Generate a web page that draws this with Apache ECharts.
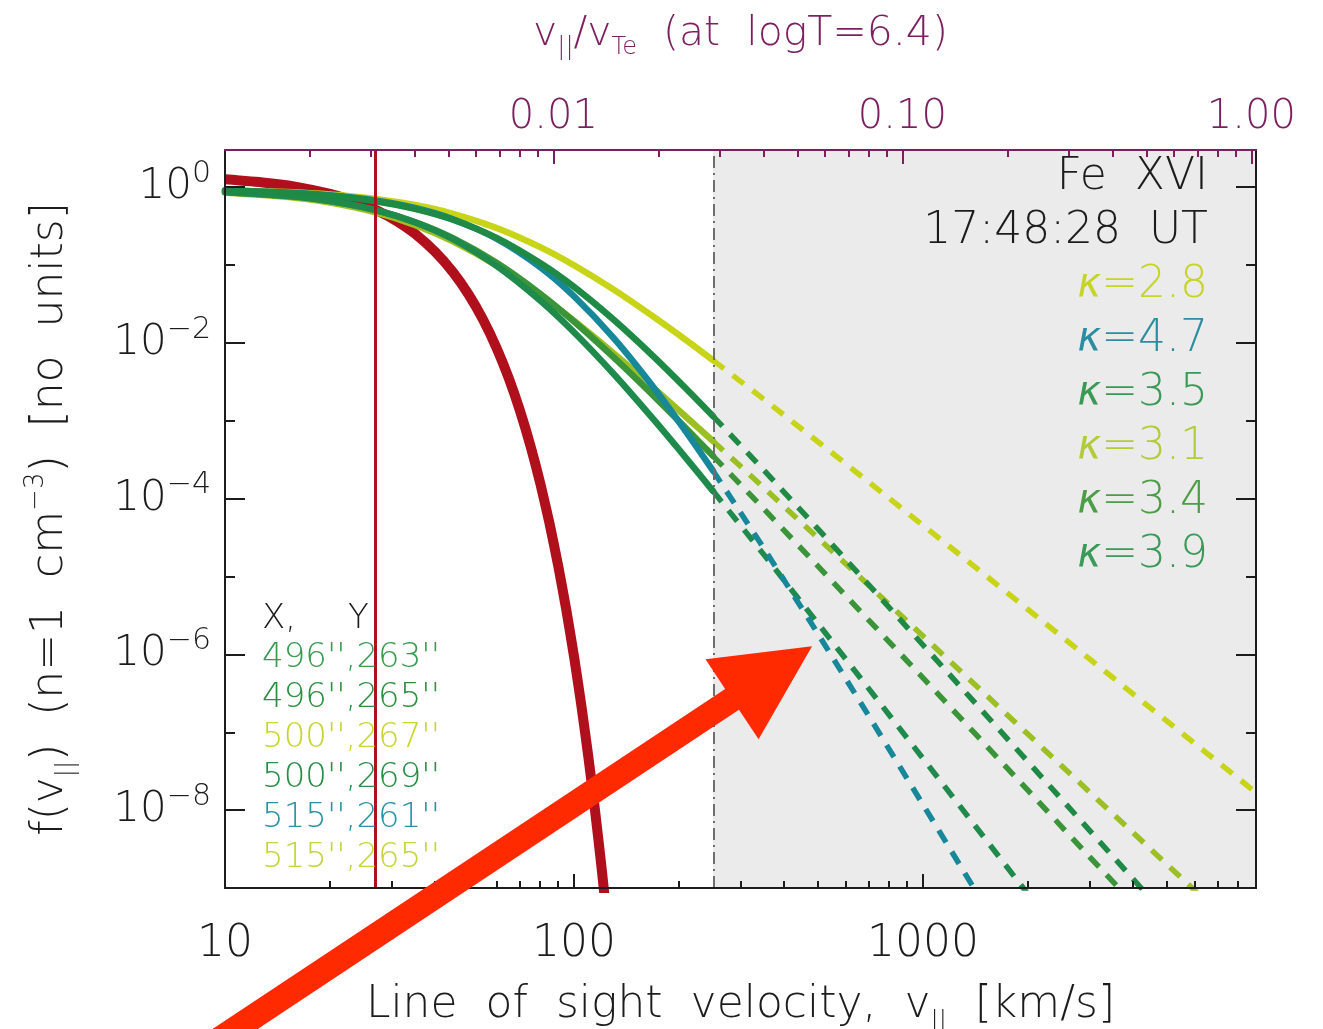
<!DOCTYPE html>
<html>
<head>
<meta charset="utf-8">
<title>Fe XVI line-of-sight velocity distributions</title>
<script src="https://cdn.jsdelivr.net/npm/echarts@6/dist/echarts.min.js"></script>
<style>
  html, body { margin: 0; padding: 0; background: #ffffff; }
  #chart { width: 1323px; height: 1029px; }
</style>
</head>
<body>
<div id="chart"></div>
<script>
// ---- axis ranges and ticks -------------------------------------------------
const velocityRange = [10, 9000];          // km/s
const densityRange = [1e-9, 3];            // f(v), n = 1 cm^-3
const vTe = 8727;                          // electron thermal speed at logT = 6.4, km/s
const velocityMajorTicks = [10, 100, 1000];
const velocityMinorTicks = [20, 30, 40, 50, 60, 70, 80, 90, 200, 300, 400, 500, 600, 700, 800, 900,
                            2000, 3000, 4000, 5000, 6000, 7000, 8000];
const densityMajorTicks = [1e-8, 1e-6, 1e-4, 1e-2, 1];
const densityMinorTicks = [1e-7, 1e-5, 1e-3, 1e-1];
const ratioMajorTicks = [0.01, 0.1, 1];
const ratioMinorTicks = [0.002, 0.003, 0.004, 0.005, 0.006, 0.007, 0.008, 0.009,
                         0.02, 0.03, 0.04, 0.05, 0.06, 0.07, 0.08, 0.09,
                         0.2, 0.3, 0.4, 0.5, 0.6, 0.7, 0.8, 0.9];

// ---- markers -------------------------------------------------------------------
const thermalSpeed = 27.1;                 // Maxwellian width, km/s
const fitLimit = 250;                      // upper end of the fitted velocity range, km/s

// ---- Maxwellian ---------------------------------------------------------------
const maxwellV = [10, 13, 16, 20, 24, 27, 31, 35, 40, 45, 50, 55, 60, 65, 70, 75, 80, 85, 90, 95,
                  100, 105, 110, 115, 120, 125];
const maxwellF = [1.26, 1.14, 1.01, 0.820, 0.638, 0.513, 0.369, 0.253, 0.148, 8.10e-2, 4.12e-2,
                  1.95e-2, 8.59e-3, 3.53e-3, 1.35e-3, 4.80e-4, 1.59e-4, 4.92e-5, 1.41e-5, 3.78e-6,
                  9.44e-7, 2.19e-7, 4.74e-8, 9.54e-9, 1.79e-9, 3.13e-10];

// ---- kappa distributions: fitted core (solid) and extrapolated tail (dashed) ----
const coreV = [10, 15, 20, 27, 35, 45, 60, 80, 100, 130, 170, 210, 250];
const tailV = [250, 350, 500, 700, 1000, 1400, 2000, 3000, 4500, 6500, 9000];

const kappa28Core = [0.914, 0.865, 0.804, 0.706, 0.589, 0.455, 0.299, 0.170, 9.95e-2, 4.83e-2, 2.13e-2, 1.08e-2, 6.01e-3];
const kappa28Tail = [6.01e-3, 1.89e-3, 5.38e-4, 1.63e-4, 4.54e-5, 1.36e-5, 3.77e-6, 8.75e-7, 2.03e-7, 5.41e-8, 1.68e-8];

const kappa47Core = [0.908, 0.855, 0.785, 0.673, 0.540, 0.388, 0.218, 9.40e-2, 3.97e-2, 1.15e-2, 2.60e-3, 7.11e-4, 2.30e-4];
const kappa47Tail = [2.30e-4, 2.31e-5, 1.84e-6, 1.61e-7, 1.18e-8, 9.93e-10, 7.1e-11];

const kappa35Core = [0.904, 0.847, 0.774, 0.659, 0.526, 0.381, 0.223, 0.106, 5.24e-2, 1.98e-2, 6.53e-3, 2.56e-3, 1.15e-3];
const kappa35Tail = [1.15e-3, 2.32e-4, 4.09e-5, 7.78e-6, 1.32e-6, 2.47e-7, 4.17e-8, 5.50e-9, 7.24e-10];

const kappa31Core = [0.855, 0.750, 0.632, 0.474, 0.327, 0.201, 9.84e-2, 4.11e-2, 1.92e-2, 7.33e-3, 2.59e-3, 1.11e-3, 5.50e-4];
const kappa31Tail = [5.50e-4, 1.38e-4, 3.13e-5, 7.67e-6, 1.72e-6, 4.20e-7, 9.40e-8, 1.71e-8, 3.13e-9, 6.67e-10];

const kappa34Core = [0.867, 0.771, 0.662, 0.507, 0.356, 0.221, 0.107, 4.28e-2, 1.88e-2, 6.50e-3, 2.04e-3, 7.89e-4, 3.55e-4];
const kappa34Tail = [3.55e-4, 7.38e-5, 1.36e-5, 2.74e-6, 4.98e-7, 9.93e-8, 1.79e-8, 2.52e-9, 3.66e-10];

const kappa39Core = [0.869, 0.774, 0.665, 0.509, 0.355, 0.215, 9.75e-2, 3.50e-2, 1.37e-2, 3.98e-3, 1.01e-3, 3.27e-4, 1.26e-4];
const kappa39Tail = [1.26e-4, 1.91e-5, 2.50e-6, 3.61e-7, 4.61e-8, 6.58e-9, 8.32e-10];

// ---- legend texts ----------------------------------------------------------------
const ionLabel = 'Fe  XVI';
const timeLabel = '17:48:28  UT';
const kappaLabels = ['2.8', '4.7', '3.5', '3.1', '3.4', '3.9'];
const pixelLabels = ["496'',263''", "496'',265''", "500'',267''", "500'',269''", "515'',261''", "515'',265''"];

// annotation arrow, from off-chart up to the tails (velocity, f)
const arrowTail = [8.6, 8.1e-12];
const arrowTip = [481, 1.27e-6];

// ---- styling -------------------------------------------------------------------------
const FONT = "'DejaVu Sans', 'Liberation Sans', sans-serif";
const FW = 200;
const INK = '#1c1c1c';
const PURPLE = '#7b1f5f';
const RED = '#b0101c';
const curveColors = {
  k28: '#c8d418', k47: '#17879a', k35: '#1f8a45', k31: '#9cbf24', k34: '#3a9438', k39: '#1e8a4c'
};
const kappaTextColors = ['#c6d42a', '#2a8ea0', '#3a9a55', '#b0cc38', '#4a9e45', '#3a9a58'];
const pixelTextColors = ['#3a9a50', '#2e8f40', '#c8d530', '#2a8d48', '#2a92a2', '#c5d43a'];

const L = Math.log10;
const logs = arr => arr.map(L);
const pairs = (v, f) => f.map((y, i) => [L(v[i]), L(y)]);

const X_MIN = L(velocityRange[0]), X_MAX = L(velocityRange[1]);
const Y_MIN = L(densityRange[0]), Y_MAX = L(densityRange[1]);

function axisBase(color) {
  return {
    type: 'value', z: 10,
    axisLine: { show: true, onZero: false, lineStyle: { color: color, width: 2 } },
    splitLine: { show: false },
    axisLabel: { show: false },
    axisPointer: { show: false }
  };
}
function tickStyle(values, len, color) {
  return { show: true, inside: true, length: len, customValues: values,
           lineStyle: { color: color, width: 2 } };
}

const chart = echarts.init(document.getElementById('chart'), null, { renderer: 'canvas' });

const xAxes = [
  Object.assign(axisBase(INK), {
    position: 'bottom', min: X_MIN, max: X_MAX,
    axisTick: tickStyle(logs(velocityMajorTicks), 14, INK),
    axisLabel: {
      show: true, customValues: logs(velocityMajorTicks), margin: 35,
      formatter: v => String(Math.round(Math.pow(10, v))),
      color: INK, fontFamily: FONT, fontWeight: FW, fontSize: 44
    },
    name: '{t|Line  of  sight  velocity,  v}{s|||}{t|  [km/s]}',
    nameLocation: 'middle', nameGap: 90,
    nameTextStyle: {
      rich: {
        t: { fontFamily: FONT, fontWeight: FW, fontSize: 44, color: INK, lineHeight: 56 },
        s: { fontFamily: FONT, fontWeight: FW, fontSize: 24, color: INK, lineHeight: 36, verticalAlign: 'bottom' }
      }
    }
  }),
  Object.assign(axisBase(INK), {
    position: 'bottom', min: X_MIN, max: X_MAX,
    axisTick: tickStyle(logs(velocityMinorTicks), 7, INK)
  }),
  Object.assign(axisBase(PURPLE), {
    position: 'top', min: X_MIN, max: X_MAX,
    axisTick: tickStyle(ratioMajorTicks.map(r => L(r * vTe)), 14, PURPLE),
    axisLabel: {
      show: true, customValues: ratioMajorTicks.map(r => L(r * vTe)), margin: 12,
      formatter: v => (Math.pow(10, v) / vTe).toFixed(2),
      color: PURPLE, fontFamily: FONT, fontWeight: FW, fontSize: 40
    },
    name: '{t|v}{s|||}{t|/v}{s|Te}{t|  (at  logT=6.4)}',
    nameLocation: 'middle', nameGap: 90,
    nameTextStyle: {
      rich: {
        t: { fontFamily: FONT, fontWeight: FW, fontSize: 41, color: PURPLE, lineHeight: 52 },
        s: { fontFamily: FONT, fontWeight: FW, fontSize: 24, color: PURPLE, lineHeight: 34, verticalAlign: 'bottom' }
      }
    }
  }),
  Object.assign(axisBase(PURPLE), {
    position: 'top', min: X_MIN, max: X_MAX,
    axisTick: tickStyle(ratioMinorTicks.map(r => L(r * vTe)), 7, PURPLE)
  })
];

const yAxes = [
  Object.assign(axisBase(INK), {
    position: 'left', min: Y_MIN, max: Y_MAX,
    axisTick: tickStyle(logs(densityMajorTicks), 20, INK),
    axisLabel: {
      show: true, customValues: logs(densityMajorTicks), margin: 14,
      formatter: v => {
        const e = Math.round(v);
        return '{b|10}{p|' + (e === 0 ? '0' : '\u2212' + (-e)) + '}';
      },
      rich: {
        b: { fontFamily: FONT, fontWeight: FW, fontSize: 42, color: INK, lineHeight: 56 },
        p: { fontFamily: FONT, fontWeight: FW, fontSize: 30, color: INK, lineHeight: 28, verticalAlign: 'top' }
      }
    },
    name: '{t|f(v}{s|||}{t|)  (n=1  cm}{p|\u22123}{t|)  [no  units]}',
    nameLocation: 'middle', nameGap: 146,
    nameTextStyle: {
      rich: {
        t: { fontFamily: FONT, fontWeight: FW, fontSize: 44, color: INK, lineHeight: 56 },
        s: { fontFamily: FONT, fontWeight: FW, fontSize: 24, color: INK, lineHeight: 36, verticalAlign: 'bottom' },
        p: { fontFamily: FONT, fontWeight: FW, fontSize: 26, color: INK, lineHeight: 26, verticalAlign: 'top' }
      }
    }
  }),
  Object.assign(axisBase(INK), {
    position: 'left', min: Y_MIN, max: Y_MAX,
    axisTick: tickStyle(logs(densityMinorTicks), 10, INK)
  }),
  Object.assign(axisBase(INK), {
    position: 'right', min: Y_MIN, max: Y_MAX,
    axisTick: tickStyle(logs(densityMajorTicks), 20, INK)
  }),
  Object.assign(axisBase(INK), {
    position: 'right', min: Y_MIN, max: Y_MAX,
    axisTick: tickStyle(logs(densityMinorTicks), 10, INK)
  })
];

function coreSeries(name, v, f, color) {
  return { name: name, type: 'line', data: pairs(v, f), showSymbol: false, symbol: 'none',
           smooth: 0.25, z: 3, lineStyle: { color: color, width: 6.5, cap: 'round' }, silent: true };
}
function tailSeries(name, v, f, color) {
  return { name: name, type: 'line', data: pairs(v, f), showSymbol: false, symbol: 'none',
           smooth: false, z: 3, lineStyle: { color: color, width: 5.5, type: [14, 11] }, silent: true };
}

const series = [
  // shaded range outside the fitted velocities
  { type: 'line', data: [], z: 1, silent: true,
    markArea: { silent: true, itemStyle: { color: '#ebebeb' },
      data: [[{ xAxis: L(fitLimit) }, { xAxis: X_MAX }]] },
    markLine: { silent: true, symbol: 'none', label: { show: false },
      lineStyle: { color: '#6e6e6e', width: 2, type: [12, 5, 2, 5] },
      data: [{ xAxis: L(fitLimit) }] } },
  { name: 'Maxwellian', type: 'line', data: pairs(maxwellV, maxwellF), showSymbol: false, symbol: 'none',
    smooth: 0.2, z: 2, lineStyle: { color: RED, width: 10 }, silent: true },
  coreSeries('κ=2.8', coreV, kappa28Core, curveColors.k28),
  coreSeries('κ=3.1', coreV, kappa31Core, curveColors.k31),
  coreSeries('κ=3.4', coreV, kappa34Core, curveColors.k34),
  coreSeries('κ=3.9', coreV, kappa39Core, curveColors.k39),
  coreSeries('κ=4.7', coreV, kappa47Core, curveColors.k47),
  coreSeries('κ=3.5', coreV, kappa35Core, curveColors.k35),
  tailSeries('κ=2.8 tail', tailV, kappa28Tail, curveColors.k28),
  tailSeries('κ=3.1 tail', tailV, kappa31Tail, curveColors.k31),
  tailSeries('κ=3.4 tail', tailV, kappa34Tail, curveColors.k34),
  tailSeries('κ=3.9 tail', tailV, kappa39Tail, curveColors.k39),
  tailSeries('κ=4.7 tail', tailV, kappa47Tail, curveColors.k47),
  tailSeries('κ=3.5 tail', tailV, kappa35Tail, curveColors.k35),
  // thermal width marker
  { type: 'line', data: [], z: 5, silent: true,
    markLine: { silent: true, symbol: 'none', label: { show: false },
      lineStyle: { color: RED, width: 3, type: 'solid' },
      data: [{ xAxis: L(thermalSpeed) }] } }
];

chart.setOption({
  animation: false,
  backgroundColor: '#ffffff',
  grid: { left: 225, right: 67, top: 150, bottom: 141, containLabel: false, outerBoundsMode: 'none',
          show: true, backgroundColor: '#ffffff', borderWidth: 0 },
  tooltip: { show: false },
  xAxis: xAxes,
  yAxis: yAxes,
  series: series
});

// ---- text annotations and arrow ---------------------------------------------------------
function textEl(text, x, y, color, size, align, rich) {
  return { type: 'text', x: x, y: y, z: 20, silent: true,
    style: { text: text, fill: color, fontFamily: FONT, fontWeight: FW, fontSize: size,
             textAlign: align, textVerticalAlign: 'middle', rich: rich || undefined } };
}

const graphics = [];
graphics.push(textEl(ionLabel, 1208, 178, INK, 44, 'right'));
graphics.push(textEl(timeLabel, 1208, 232, INK, 44, 'right'));
kappaLabels.forEach((k, i) => {
  const c = kappaTextColors[i];
  graphics.push(textEl('{k|κ}{n|=' + k + '}', 1208, 286 + i * 54, c, 44, 'right', {
    k: { fontFamily: FONT, fontWeight: FW, fontSize: 40, fontStyle: 'italic', fill: c, color: c },
    n: { fontFamily: FONT, fontWeight: FW, fontSize: 44, fill: c, color: c }
  }));
});
graphics.push(textEl('X,', 262, 619, INK, 34, 'left'));
graphics.push(textEl('Y', 348, 619, INK, 34, 'left'));
pixelLabels.forEach((p, i) => {
  graphics.push(textEl(p, 262, 658 + i * 40, pixelTextColors[i], 34, 'left'));
});

const toPx = (v, f) => chart.convertToPixel({ xAxisIndex: 0, yAxisIndex: 0 }, [L(v), L(f)]);
const p0 = toPx(arrowTail[0], arrowTail[1]);
const p1 = toPx(arrowTip[0], arrowTip[1]);
const dx = p1[0] - p0[0], dy = p1[1] - p0[1];
const len = Math.hypot(dx, dy);
const ux = dx / len, uy = dy / len, nx = -uy, ny = ux;
const headLen = 96, headHalf = 48, shaftHalf = 12.5;
const bx = p1[0] - ux * headLen, by = p1[1] - uy * headLen;
graphics.push({
  type: 'polygon', z: 30, silent: true,
  shape: { points: [
    [p0[0] + nx * shaftHalf, p0[1] + ny * shaftHalf],
    [bx + nx * shaftHalf, by + ny * shaftHalf],
    [bx + nx * headHalf, by + ny * headHalf],
    [p1[0], p1[1]],
    [bx - nx * headHalf, by - ny * headHalf],
    [bx - nx * shaftHalf, by - ny * shaftHalf],
    [p0[0] - nx * shaftHalf, p0[1] - ny * shaftHalf]
  ] },
  style: { fill: '#ff2a00' }
});

chart.setOption({ graphic: graphics });
</script>
</body>
</html>
